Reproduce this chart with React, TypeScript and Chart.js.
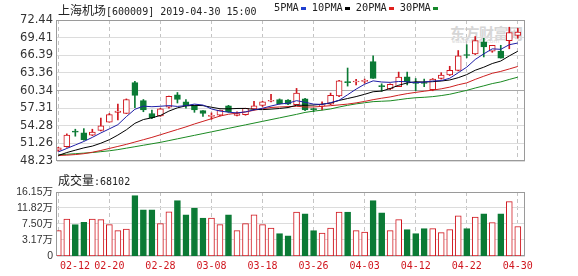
import { useEffect, useRef } from 'react';
import { Chart, registerables } from 'chart.js';

Chart.register(...registerables);

// ---------- data ----------
const dates = [
  '02-12', '02-13', '02-14', '02-15', '02-18', '02-19', '02-20', '02-21', '02-22', '02-25', '02-26', '02-27', '02-28',
  '03-01', '03-04', '03-05', '03-06', '03-07', '03-08', '03-11', '03-12', '03-13', '03-14', '03-15', '03-18', '03-19',
  '03-20', '03-21', '03-22', '03-25', '03-26', '03-27', '03-28', '03-29',
  '04-01', '04-02', '04-03', '04-04', '04-08', '04-09', '04-10', '04-11', '04-12', '04-15', '04-16', '04-17', '04-18',
  '04-19', '04-22', '04-23', '04-24', '04-25', '04-26', '04-29', '04-30',
];

const open = [
  50.1, 50.7, 53.3, 53.1, 52.7, 53.5, 54.9, 56.6, 56.4, 61.7,
  58.6, 56.4, 56.0, 57.5, 59.6, 58.4, 57.7, 56.9, 55.9, 56.1,
  57.7, 56.05, 56.2, 57.2, 57.8, 58.5, 58.8, 58.7, 57.9, 58.9,
  57.15, 57.7, 58.0, 59.4, 61.85, 61.8, 61.9, 65.3, 61.1, 60.6,
  61.0, 62.7, 61.65, 61.6, 60.5, 62.4, 63.0, 63.8, 66.45, 66.6,
  68.7, 67.1, 67.1, 68.9, 69.8,
];
const high = [
  50.6, 52.9, 53.7, 53.8, 53.7, 55.6, 56.4, 58.0, 58.9, 61.9,
  58.8, 57.0, 57.3, 59.4, 60.0, 58.8, 57.8, 56.9, 56.5, 57.0,
  57.8, 56.7, 57.3, 58.5, 58.5, 59.7, 58.9, 58.8, 60.7, 59.0,
  57.3, 58.4, 59.9, 62.1, 64.2, 62.25, 62.3, 66.3, 61.5, 61.5,
  63.5, 63.5, 62.4, 62.3, 62.4, 63.4, 64.5, 67.2, 68.2, 69.6,
  69.3, 68.1, 68.1, 71.2, 71.0,
];
const low = [
  49.9, 50.6, 52.5, 51.8, 52.6, 53.4, 54.9, 55.3, 56.4, 57.4,
  56.7, 55.5, 55.9, 57.3, 58.2, 57.3, 56.6, 55.9, 55.4, 56.0,
  56.6, 56.0, 56.1, 57.1, 57.6, 58.4, 58.0, 57.9, 57.9, 56.9,
  56.7, 57.0, 57.9, 59.3, 61.1, 61.3, 61.6, 62.4, 60.2, 60.5,
  61.0, 61.3, 60.3, 61.0, 60.3, 62.3, 62.9, 63.7, 65.95, 66.5,
  66.1, 66.9, 65.9, 67.5, 69.3,
];
const close = [
  50.5, 52.7, 53.2, 51.9, 53.2, 54.3, 56.2, 56.8, 58.8, 59.5,
  57.0, 55.7, 57.2, 59.35, 58.8, 57.7, 57.0, 56.4, 56.0, 57.0,
  56.7, 56.4, 57.3, 57.7, 58.4, 58.6, 58.1, 58.0, 59.9, 57.0,
  57.05, 57.8, 59.5, 62.0, 61.7, 61.9, 62.0, 62.4, 61.0, 61.4,
  62.65, 61.8, 61.55, 61.55, 62.3, 63.0, 63.8, 66.3, 66.35, 68.9,
  67.8, 68.1, 65.9, 70.3, 70.35,
];
// volume in 万 (10k)
const volume = [
  5.69, 8.85, 7.31, 7.93, 8.85, 8.66, 7.31, 5.69, 6.15, 15.15,
  11.36, 11.36, 7.58, 10.82, 13.8, 10.0, 11.82, 9.12, 9.12, 7.31,
  10.0, 5.69, 7.58, 10.0, 7.31, 6.42, 4.88, 4.33, 10.74, 10.28,
  5.69, 5.06, 6.42, 10.74, 10.74, 5.69, 5.33, 13.8, 10.55, 5.69,
  8.66, 5.96, 4.88, 6.23, 6.23, 5.15, 5.96, 9.74, 6.23, 9.39,
  10.28, 7.85, 10.28, 13.53, 6.81,
];
const ma5 = [
  49.8, 50.4, 51.0, 51.6, 52.3, 53.06, 53.76, 54.48, 55.86, 57.12,
  57.66, 57.56, 57.64, 57.75, 57.61, 57.75, 58.01, 57.85, 57.18, 56.82,
  56.62, 56.5, 56.68, 57.02, 57.3, 57.68, 58.02, 58.16, 58.6, 58.32,
  58.01, 57.95, 58.25, 58.67, 59.61, 60.58, 61.42, 62.0, 61.8, 61.74,
  61.89, 61.85, 61.68, 61.79, 61.97, 62.04, 62.44, 63.39, 64.35, 65.67,
  66.63, 67.49, 67.41, 68.2, 68.49,
];
const ma10 = [
  49.2, 49.7, 50.1, 50.5, 50.8, 51.3, 51.9, 52.7, 53.6, 54.71,
  55.36, 55.66, 56.06, 56.81, 57.37, 57.71, 57.79, 57.75, 57.47, 57.22,
  57.19, 57.26, 57.27, 57.1, 57.06, 57.15, 57.26, 57.42, 57.81, 57.81,
  57.85, 57.99, 58.2, 58.64, 58.97, 59.3, 59.69, 60.13, 60.24, 60.68,
  61.24, 61.64, 61.84, 61.8, 61.86, 61.97, 62.15, 62.54, 63.07, 63.82,
  64.34, 64.97, 65.4, 66.28, 67.08,
];
const ma20 = [
  49.2, 49.25, 49.35, 49.5, 49.75, 50.05, 50.4, 50.75, 51.1, 51.5,
  51.9, 52.3, 52.75, 53.2, 53.65, 54.1, 54.6, 55.05, 55.5, 55.96,
  56.27, 56.46, 56.66, 56.95, 57.21, 57.43, 57.52, 57.58, 57.64, 57.51,
  57.52, 57.62, 57.74, 57.87, 58.01, 58.22, 58.47, 58.77, 59.02, 59.24,
  59.54, 59.81, 60.02, 60.22, 60.41, 60.63, 60.92, 61.33, 61.65, 62.25,
  62.79, 63.3, 63.62, 64.04, 64.47,
];
const ma30 = [
  49.3, 49.4, 49.5, 49.6, 49.7, 49.85, 50.0, 50.2, 50.45, 50.7,
  50.95, 51.2, 51.45, 51.75, 52.05, 52.35, 52.65, 52.95, 53.25, 53.55,
  53.85, 54.15, 54.45, 54.75, 55.05, 55.35, 55.65, 55.95, 56.25, 56.58,
  56.8, 56.97, 57.18, 57.51, 57.8, 58.05, 58.24, 58.43, 58.5, 58.57,
  58.76, 58.96, 59.1, 59.18, 59.29, 59.47, 59.7, 60.03, 60.37, 60.77,
  61.14, 61.53, 61.82, 62.24, 62.63,
];

const priceTickLabels = ['72.44', '69.41', '66.39', '63.36', '60.34', '57.31', '54.28', '51.26', '48.23'];
const volumeTickLabels = ['16.15万', '11.82万', '7.50万', '3.17万', '0'];
const volumeTickValues = [16.15, 11.825, 7.5, 3.175, -1.155];
const dateTickLabels = ['02-12', '02-20', '02-28', '03-08', '03-18', '03-26', '04-03', '04-12', '04-22', '04-30'];
const maNames = ['5PMA', '10PMA', '20PMA', '30PMA'];
const titleName = '上海机场';
const titleInfo = '[600009] 2019-04-30 15:00';
const volumeName = '成交量';
const lastVolume = '68102';

// ---------- styles ----------
const UP = '#d0161e';
const DOWN = '#0b7a35';
const MA_LINE_COLORS = ['#1e1ea6', '#000000', '#cc1f1f', '#1b8a22'];
const MA_KEY_COLORS = ['#1f3fd0', '#000000', '#e0201c', '#15882a'];
const X_MIN = -0.153;
const X_MAX = dates.length - 1 + 0.847;
const FIRST_LABEL_X = 1.96;
const MONO = '"DejaVu Sans Mono", "Liberation Mono", monospace';
const CJK = '"Noto Sans CJK SC", sans-serif';

const isUp = (i: number) => close[i] >= open[i];

const framePlugin = {
  id: 'frame',
  beforeDatasetsDraw(chart: any) {
    const { ctx, chartArea: a } = chart;
    ctx.save();
    ctx.strokeStyle = '#9a9a9a';
    ctx.lineWidth = 1;
    ctx.strokeRect(Math.round(a.left) - 0.5, Math.round(a.top) + 0.5,
      Math.round(a.right) - Math.round(a.left), Math.round(a.bottom) - Math.round(a.top) - 1);
    ctx.restore();
  },
};

function xAxis(withLabels: boolean) {
  const tickIdx = dateTickLabels.map((d) => dates.indexOf(d));
  const values = withLabels ? [tickIdx[0], FIRST_LABEL_X, ...tickIdx.slice(1)] : tickIdx;
  return {
    type: 'linear',
    min: X_MIN,
    max: X_MAX,
    bounds: 'data',
    offset: false,
    afterBuildTicks: (s: any) => { s.ticks = values.map((v) => ({ value: v })); },
    afterFit: (s: any) => { s.height = withLabels ? 20 : 0; },
    grid: {
      offset: false,
      drawTicks: false,
      lineWidth: 1,
      color: (c: any) => (c.tick && c.tick.value === FIRST_LABEL_X ? 'rgba(0,0,0,0)' : '#c4c4c4'),
    },
    border: { display: false, dash: [4, 3] },
    ticks: withLabels
      ? {
          autoSkip: false,
          maxRotation: 0,
          minRotation: 0,
          padding: 4,
          color: UP,
          font: { family: MONO, size: 10 },
          callback: (v: number) => (v === FIRST_LABEL_X ? dates[tickIdx[0]] : v === tickIdx[0] ? '' : dates[v]),
        }
      : { display: false },
  };
}

export default function App() {
  const priceRef = useRef<HTMLCanvasElement>(null);
  const volRef = useRef<HTMLCanvasElement>(null);

  useEffect(() => {
    const idx = dates.map((_, i) => i);
    const priceMid = parseFloat(priceTickLabels[4]);

    const price = new Chart(priceRef.current as HTMLCanvasElement, {
      type: 'bar',
      data: {
        datasets: [
          ...[ma5, ma10, ma20, ma30].map((arr, k) => ({
            type: 'line' as const,
            data: idx.map((i) => ({ x: i, y: arr[i] })),
            borderColor: MA_LINE_COLORS[k],
            borderWidth: 1,
            pointRadius: 0,
            tension: 0,
            fill: false,
            order: 0,
          })),
          {
            type: 'bar' as const,
            data: idx.map((i) => ({ x: i, y: [open[i], close[i]] })),
            backgroundColor: idx.map((i) => (isUp(i) ? '#ffffff' : DOWN)),
            borderColor: idx.map((i) => (isUp(i) ? UP : DOWN)),
            borderWidth: 1,
            borderSkipped: false,
            barThickness: 6,
            minBarLength: 1,
            grouped: false,
            order: 1,
          },
          {
            type: 'bar' as const,
            data: idx.map((i) => ({ x: i, y: [low[i], high[i]] })),
            backgroundColor: idx.map((i) => (isUp(i) ? UP : DOWN)),
            borderWidth: 0,
            barThickness: 1,
            grouped: false,
            order: 2,
          },
        ] as any,
      },
      options: {
        animation: false,
        responsive: false,
        maintainAspectRatio: false,
        devicePixelRatio: 1,
        events: [],
        layout: { padding: { left: 0, right: 53, top: 20, bottom: 6 } },
        plugins: { legend: { display: false }, tooltip: { enabled: false }, title: { display: false } },
        scales: {
          x: xAxis(false) as any,
          y: {
            type: 'linear',
            min: parseFloat(priceTickLabels[priceTickLabels.length - 1]),
            max: parseFloat(priceTickLabels[0]),
            bounds: 'data',
            afterBuildTicks: (s: any) => { s.ticks = priceTickLabels.map((t) => ({ value: parseFloat(t) })); },
            afterFit: (s: any) => { s.width = 57; },
            grid: {
              drawTicks: false,
              color: (c: any) => (c.tick && c.tick.value === priceMid ? '#a8a8a8' : '#dcdcdc'),
            },
            border: { display: false },
            ticks: {
              autoSkip: false,
              padding: 4,
              color: '#333333',
              font: { family: '"DejaVu Sans", sans-serif', size: 11.5 },
              callback: (_v: any, i: number) => priceTickLabels[i],
            },
          } as any,
        },
      },
      plugins: [framePlugin],
    });

    const volMin = volumeTickValues[volumeTickValues.length - 1];
    const vol = new Chart(volRef.current as HTMLCanvasElement, {
      type: 'bar',
      data: {
        datasets: [
          {
            data: idx.map((i) => ({ x: i, y: [volMin, volume[i]] })),
            backgroundColor: idx.map((i) => (isUp(i) ? '#ffffff' : DOWN)),
            borderColor: idx.map((i) => (isUp(i) ? UP : DOWN)),
            borderWidth: 1,
            borderSkipped: false,
            barThickness: 6,
            grouped: false,
          },
        ] as any,
      },
      options: {
        animation: false,
        responsive: false,
        maintainAspectRatio: false,
        devicePixelRatio: 1,
        events: [],
        layout: { padding: { left: 0, right: 53, top: 20, bottom: 0 } },
        plugins: { legend: { display: false }, tooltip: { enabled: false } },
        scales: {
          x: xAxis(true) as any,
          y: {
            type: 'linear',
            min: volMin,
            max: volumeTickValues[0],
            bounds: 'data',
            afterBuildTicks: (s: any) => { s.ticks = volumeTickValues.map((v) => ({ value: v })); },
            afterFit: (s: any) => { s.width = 57; },
            grid: { drawTicks: false, color: '#dcdcdc' },
            border: { display: false },
            ticks: {
              autoSkip: false,
              padding: 4,
              color: '#333333',
              font: { family: '"Liberation Sans", "Noto Sans CJK SC", sans-serif', size: 10.5 },
              callback: (_v: any, i: number) => volumeTickLabels[i],
            },
          } as any,
        },
      },
      plugins: [framePlugin],
    });

    return () => {
      price.destroy();
      vol.destroy();
    };
  }, []);

  return (
    <div style={{ position: 'fixed', left: 0, top: 0, width: 578, height: 276, background: '#ffffff', overflow: 'hidden' }}>
      {/* watermark (behind the charts) */}
      <div style={{ position: 'absolute', left: 450, top: 22, lineHeight: '16px', font: `bold 15px ${CJK}`, color: '#d6d6d6', letterSpacing: '-0.5px' }}>
        东方财富网
      </div>
      <div style={{ position: 'absolute', left: 452, top: 37, lineHeight: '7px', font: '6px "DejaVu Sans", sans-serif', color: '#dadada' }}>
        eastmoney.com
      </div>

      <canvas ref={priceRef} width={578} height={172} style={{ position: 'absolute', left: 0, top: 0 }} />
      <canvas ref={volRef} width={578} height={104} style={{ position: 'absolute', left: 0, top: 172 }} />

      {/* header */}
      <div style={{ position: 'absolute', left: 58, top: 1, lineHeight: '16px', whiteSpace: 'pre', color: '#222' }}>
        <span style={{ font: `12px ${CJK}` }}>{titleName}</span>
        <span style={{ font: `10px ${MONO}` }}>{titleInfo}</span>
      </div>
      <div style={{ position: 'absolute', left: 274, top: 1, lineHeight: '16px', whiteSpace: 'pre', color: '#222', display: 'flex', alignItems: 'center' }}>
        {maNames.map((n, k) => (
          <span key={n} style={{ display: 'flex', alignItems: 'center' }}>
            <span style={{ font: `10.3px ${MONO}` }}>{n}</span>
            <span style={{ display: 'inline-block', width: 5, height: 3, marginLeft: 2, marginRight: 6, marginTop: 2, background: MA_KEY_COLORS[k] }} />
          </span>
        ))}
      </div>
      <div style={{ position: 'absolute', left: 58, top: 171, lineHeight: '16px', whiteSpace: 'pre', color: '#222' }}>
        <span style={{ font: `12px ${CJK}` }}>{volumeName}</span>
        <span style={{ font: `10px ${MONO}` }}>:{lastVolume}</span>
      </div>
    </div>
  );
}
